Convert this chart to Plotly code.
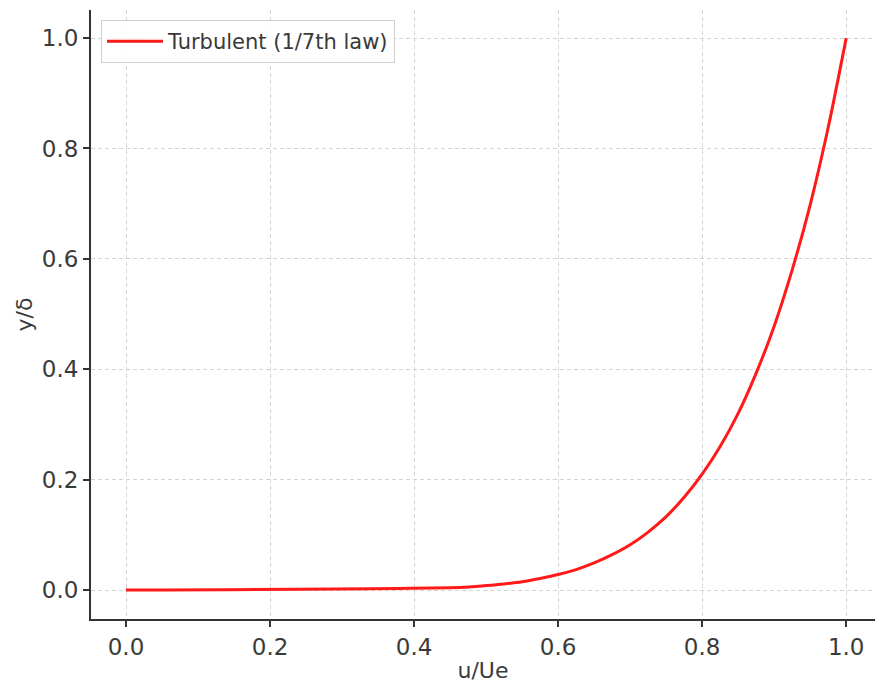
import plotly.graph_objects as go

# Velocity profile samples: u/Ue against y/delta
u_ratio = [0.0, 0.47, 0.50, 0.525, 0.55, 0.575, 0.60, 0.625, 0.65, 0.675, 0.70,
           0.725, 0.75, 0.775, 0.80, 0.825, 0.85, 0.875, 0.90, 0.925, 0.95, 0.975, 1.0]
y_delta = [0.0, 0.005, 0.008, 0.011, 0.015, 0.021, 0.028, 0.037, 0.049, 0.064, 0.082,
           0.105, 0.133, 0.168, 0.21, 0.26, 0.32, 0.393, 0.478, 0.58, 0.698, 0.838, 1.0]

tick_vals = [0.0, 0.2, 0.4, 0.6, 0.8, 1.0]
tick_text = ["0.0", "0.2", "0.4", "0.6", "0.8", "1.0"]

FONT = "DejaVu Sans"
TXT = "#3a3a3a"

fig = go.Figure()
fig.add_trace(go.Scatter(
    x=u_ratio, y=y_delta, mode="lines",
    line=dict(color="#ff1a1a", width=3, shape="spline", smoothing=0.8),
    name="Turbulent (1/7th law)",
))

axis_common = dict(
    tickvals=tick_vals, ticktext=tick_text,
    showgrid=True, gridcolor="#d4d4d4", gridwidth=1, griddash="4px,3px",
    zeroline=False, showline=True, linecolor="#333333", linewidth=2,
    ticks="outside", ticklen=6, tickwidth=1.5, tickcolor="#333333",
    tickfont=dict(family=FONT, size=23, color=TXT),
    mirror=False,
)

fig.update_layout(
    width=875, height=683,
    margin=dict(l=91, r=0, t=10, b=64),
    paper_bgcolor="white", plot_bgcolor="white",
    xaxis=dict(range=[-0.0486, 1.040],
               title=dict(text="u/Ue", font=dict(family=FONT, size=22, color=TXT), standoff=6),
               **axis_common),
    yaxis=dict(range=[-0.0525, 1.0509],
               title=dict(text="y/δ", font=dict(family=FONT, size=22, color=TXT), standoff=3),
               **axis_common),
    showlegend=True,
    legend=dict(x=0.0128, y=0.9836, xanchor="left", yanchor="top",
                bgcolor="rgba(255,255,255,0.85)", bordercolor="#d0d0d0", borderwidth=1,
                itemwidth=56,
                font=dict(family=FONT, size=21, color=TXT)),
)

fig.write_html("out.html")
